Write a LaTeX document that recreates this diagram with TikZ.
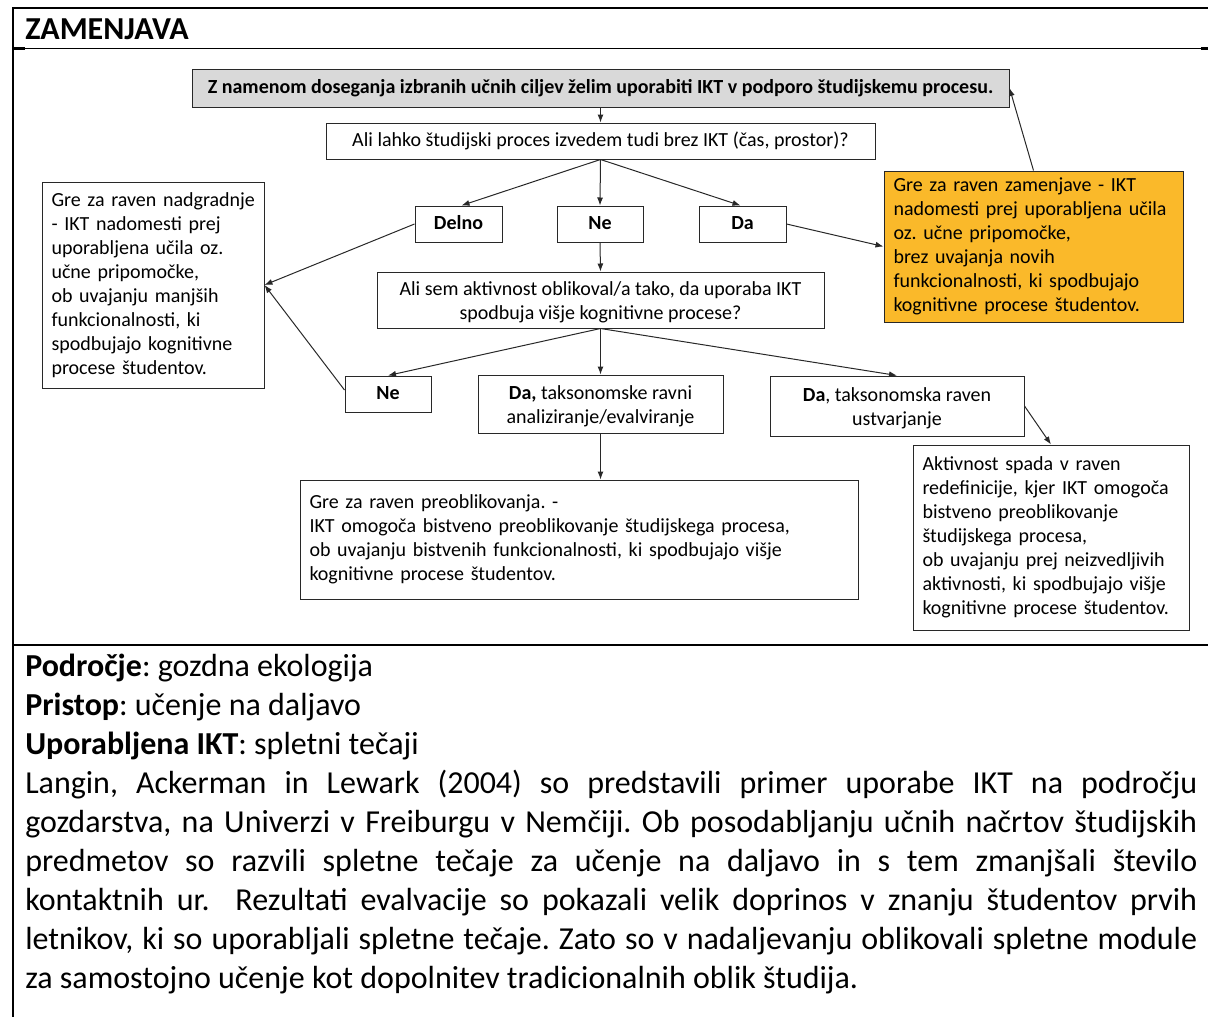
\documentclass[tikz,border=0pt]{standalone}
\usepackage{fontspec}
\setmainfont{Carlito}
\usetikzlibrary{arrows.meta}
\frenchspacing
\hyphenpenalty=10000
\exhyphenpenalty=10000
\newlength\pxu
\setlength\pxu{0.75pt}
\definecolor{boxgold}{RGB}{250,185,42}
\definecolor{boxgray}{RGB}{217,217,217}
\definecolor{edge}{RGB}{40,40,40}
% one unbreakable line inside a wrapped box
\newcommand\oneline[1]{\mbox{#1}}
% taller first line, lowers a centred text block a little
\newcommand\topstrut{\rule{0pt}{14.5pt}}

\begin{document}
\begin{tikzpicture}[x=0.75pt,y=-0.75pt,
  small/.style={font=\fontsize{15}{18}\selectfont},
  big/.style={font=\fontsize{24}{29.3}\selectfont},
  box/.style={draw=edge, line width=0.75pt, small, inner sep=0pt},
  sbox/.style={box, text height=10.5pt, text depth=3pt},
  mbox/.style={box, align=left, inner xsep=9.5\pxu},
  cbox/.style={box, align=center},
  arr/.style={draw=edge, line width=0.75pt, -{Latex[length=6pt,width=4.5pt]}},
  rule/.style={line width=0.8pt},
  tick/.style={line width=1.6pt}]

% page extent
\useasboundingbox (0,0) rectangle (1208,1017);

% table frame
\draw[line width=1.5pt] (13,1017) -- (13,7.5) -- (1208,7.5);
\draw[rule] (13,48.5) -- (1208,48.5);
\draw[tick] (13,48.5) -- (25,48.5);
\draw[tick] (1201,48.5) -- (1208,48.5);
\draw[rule] (13,645) -- (1208,645);
\draw[tick] (13,645) -- (23,645);
\draw[tick] (1201,645) -- (1208,645);

% heading
\node[big, anchor=base west, inner sep=0pt] (title) at (25,40) {\textbf{ZAMENJAVA}};

% flowchart boxes
\node[sbox, fill=boxgray, minimum width=817\pxu, minimum height=38\pxu] (goal) at (600.5,88)
  {\textbf{Z namenom doseganja izbranih učnih ciljev želim uporabiti IKT v podporo študijskemu procesu.}};
\node[sbox, minimum width=549\pxu, minimum height=36\pxu] (q1) at (600.5,141)
  {Ali lahko študijski proces izvedem tudi brez IKT (čas, prostor)?};

\node[sbox, minimum width=87\pxu, minimum height=36\pxu] (delno) at (458.5,224) {\textbf{Delno}};
\node[sbox, minimum width=86\pxu, minimum height=36\pxu] (ne1) at (600,224) {\textbf{Ne}};
\node[sbox, minimum width=87\pxu, minimum height=36\pxu] (da1) at (742.5,224) {\textbf{Da}};

\node[mbox, text width=203\pxu, minimum height=206\pxu] (upgrade) at (153,285)
  {\oneline{Gre za raven nadgradnje}\\\oneline{- IKT nadomesti prej}\\\oneline{uporabljena učila oz.}\\\oneline{učne pripomočke,}\\\oneline{ob uvajanju manjših}\\\oneline{funkcionalnosti, ki}\\\oneline{spodbujajo kognitivne}\\\oneline{procese študentov.}};

\node[mbox, fill=boxgold, text width=280\pxu, minimum height=151\pxu] (subst) at (1033.5,246.5)
  {Gre za raven zamenjave - IKT\\nadomesti prej uporabljena učila\\oz. učne pripomočke,\\brez uvajanja novih\\funkcionalnosti, ki spodbujajo\\kognitivne procese študentov.};

\node[cbox, minimum width=447\pxu, minimum height=56\pxu] (q2) at (600.5,300)
  {\topstrut Ali sem aktivnost oblikoval/a tako, da uporaba IKT\\spodbuja višje kognitivne procese?};

\node[sbox, minimum width=86\pxu, minimum height=36\pxu] (ne2) at (388,394) {\textbf{Ne}};
\node[cbox, minimum width=245\pxu, minimum height=58\pxu] (daan) at (600.5,404)
  {\topstrut\textbf{Da,} taksonomske ravni\\analiziranje/evalviranje};
\node[cbox, minimum width=254\pxu, minimum height=60\pxu] (daus) at (897,406)
  {\topstrut\textbf{Da}, taksonomska raven\\\rule{0pt}{15pt}ustvarjanje};

\node[mbox, text width=539\pxu, minimum height=119\pxu] (modif) at (579,539.5)
  {Gre za raven preoblikovanja. -\\IKT omogoča bistveno preoblikovanje študijskega procesa,\\ob uvajanju bistvenih funkcionalnosti, ki spodbujajo višje\\kognitivne procese študentov.};

\node[mbox, text width=257\pxu, minimum height=185\pxu] (redef) at (1051,537.5)
  {Aktivnost spada v raven\\redefinicije, kjer IKT omogoča\\bistveno preoblikovanje\\študijskega procesa,\\ob uvajanju prej neizvedljivih\\aktivnosti, ki spodbujajo višje\\kognitivne procese študentov.};

% connectors
\draw[arr] (goal.south) -- (q1.north);
\draw[arr] (q1.south) -- ([xshift=3\pxu]delno.north);
\draw[arr] (q1.south) -- (ne1.north);
\draw[arr] (q1.south) -- ([xshift=-2\pxu]da1.north);
\draw[arr] (delno.west) -- (upgrade.east);
\draw[arr] (ne1.south) -- (q2.north);
\draw[arr] (da1.east) -- (subst.west);
\draw[arr] (subst.north) -- (goal.east);
\draw[arr] (q2.south) -- (ne2.north);
\draw[arr] (q2.south) -- (daan.north);
\draw[arr] (q2.south) -- (daus.north);
\draw[arr] ([yshift=4\pxu]ne2.west) -- (upgrade.east);
\draw[arr] (daan.south) -- (modif.north -| daan.south);
\draw[arr] (daus.east) -- (redef.north);

% case description
\node[big, anchor=base west, inner sep=0pt] (field) at (25,676) {\textbf{Področje}: gozdna ekologija};
\node[big, anchor=base west, inner sep=0pt] (approach) at (25,715) {\textbf{Pristop}: učenje na daljavo};
\node[big, anchor=base west, inner sep=0pt] (tool) at (25,754) {\textbf{Uporabljena IKT}: spletni tečaji};
\node[big, anchor=base west, inner sep=0pt] (p1) at (25,793)
  {\makebox[1172\pxu][s]{Langin, Ackerman in Lewark (2004) so predstavili primer uporabe IKT na področju}};
\node[big, anchor=base west, inner sep=0pt] (p2) at (25,832)
  {\makebox[1172\pxu][s]{gozdarstva, na Univerzi v Freiburgu v Nemčiji. Ob posodabljanju učnih načrtov študijskih}};
\node[big, anchor=base west, inner sep=0pt] (p3) at (25,871)
  {\makebox[1172\pxu][s]{predmetov so razvili spletne tečaje za učenje na daljavo in s tem zmanjšali število}};
\node[big, anchor=base west, inner sep=0pt] (p4) at (25,910)
  {\makebox[1172\pxu][s]{kontaktnih ur.\ \ Rezultati evalvacije so pokazali velik doprinos v znanju študentov prvih}};
\node[big, anchor=base west, inner sep=0pt] (p5) at (25,949)
  {\makebox[1172\pxu][s]{letnikov, ki so uporabljali spletne tečaje. Zato so v nadaljevanju oblikovali spletne module}};
\node[big, anchor=base west, inner sep=0pt] (p6) at (25,988)
  {za samostojno učenje kot dopolnitev tradicionalnih oblik študija.};

\end{tikzpicture}
\end{document}
